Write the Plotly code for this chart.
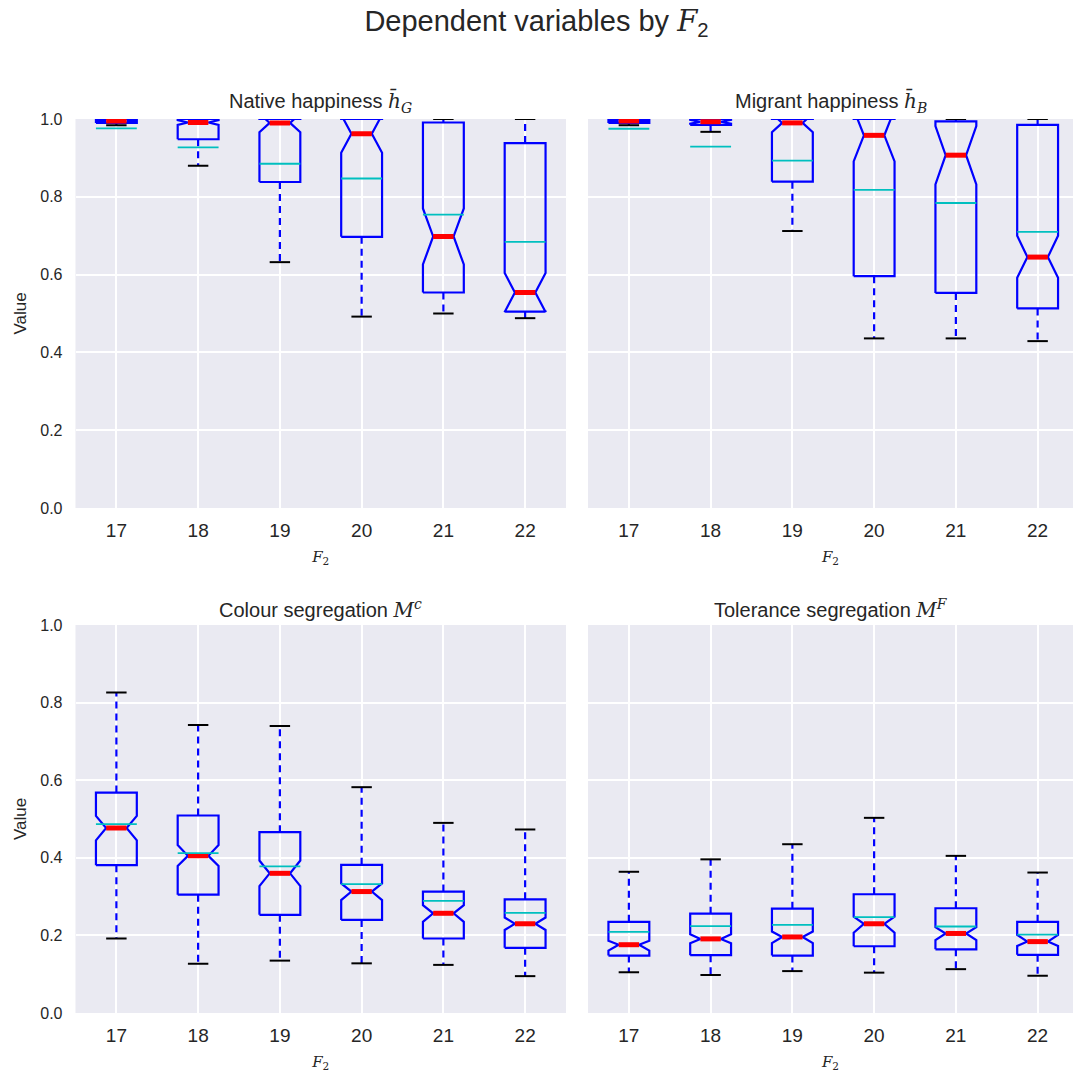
import plotly.graph_objects as go

W, H = 1073, 1075

categories = ["17", "18", "19", "20", "21", "22"]

# ---- Native happiness ----
nat_q1 = [0.990, 0.948, 0.838, 0.697, 0.554, 0.505]
nat_med = [0.995, 0.991, 0.990, 0.962, 0.698, 0.554]
nat_q3 = [1.000, 1.000, 1.000, 1.000, 0.991, 0.938]
nat_nlo = [0.993, 0.985, 0.966, 0.913, 0.626, 0.504]
nat_nhi = [0.997, 0.997, 1.014, 1.011, 0.770, 0.604]
nat_wlo = [0.984, 0.880, 0.632, 0.492, 0.500, 0.488]
nat_whi = [1.000, 1.000, 1.000, 1.000, 1.000, 1.000]
nat_mean = [0.976, 0.927, 0.885, 0.847, 0.754, 0.684]

# ---- Migrant happiness ----
mig_q1 = [0.990, 0.985, 0.839, 0.596, 0.553, 0.513]
mig_med = [0.995, 0.993, 0.990, 0.958, 0.907, 0.645]
mig_q3 = [1.000, 1.000, 1.000, 1.000, 0.994, 0.985]
mig_nlo = [0.993, 0.988, 0.966, 0.891, 0.832, 0.592]
mig_nhi = [0.997, 0.998, 1.014, 1.025, 0.982, 0.700]
mig_wlo = [0.984, 0.967, 0.712, 0.436, 0.436, 0.429]
mig_whi = [1.000, 1.000, 1.000, 1.000, 1.000, 1.000]
mig_mean = [0.975, 0.929, 0.893, 0.818, 0.784, 0.710]

# ---- Colour segregation ----
col_q1 = [0.381, 0.305, 0.253, 0.240, 0.192, 0.168]
col_med = [0.477, 0.405, 0.360, 0.313, 0.257, 0.230]
col_q3 = [0.568, 0.509, 0.466, 0.382, 0.313, 0.293]
col_nlo = [0.445, 0.379, 0.327, 0.291, 0.235, 0.214]
col_nhi = [0.508, 0.433, 0.393, 0.334, 0.278, 0.246]
col_wlo = [0.192, 0.127, 0.135, 0.128, 0.124, 0.095]
col_whi = [0.826, 0.742, 0.740, 0.582, 0.490, 0.473]
col_mean = [0.487, 0.412, 0.378, 0.332, 0.289, 0.258]

# ---- Tolerance segregation ----
tol_q1 = [0.148, 0.149, 0.148, 0.172, 0.164, 0.150]
tol_med = [0.176, 0.191, 0.196, 0.230, 0.205, 0.184]
tol_q3 = [0.235, 0.256, 0.269, 0.306, 0.270, 0.235]
tol_nlo = [0.161, 0.180, 0.180, 0.207, 0.188, 0.173]
tol_nhi = [0.186, 0.203, 0.210, 0.248, 0.221, 0.201]
tol_wlo = [0.105, 0.098, 0.108, 0.104, 0.113, 0.096]
tol_whi = [0.364, 0.396, 0.435, 0.503, 0.405, 0.362]
tol_mean = [0.209, 0.224, 0.227, 0.247, 0.223, 0.202]

y_ticks = [0.0, 0.2, 0.4, 0.6, 0.8, 1.0]

SERIF = "DejaVu Serif, Liberation Serif, serif"


def m(s):
    return f'<span style="font-family:{SERIF}"><i>{s}</i></span>'


panels = [
    ("Native happiness " + m("h̄") + "<sub>" + m("G") + "</sub>",
     nat_q1, nat_med, nat_q3, nat_nlo, nat_nhi, nat_wlo, nat_whi, nat_mean),
    ("Migrant happiness " + m("h̄") + "<sub>" + m("B") + "</sub>",
     mig_q1, mig_med, mig_q3, mig_nlo, mig_nhi, mig_wlo, mig_whi, mig_mean),
    ("Colour segregation " + m("M") + "<sup>" + m("c") + "</sup>",
     col_q1, col_med, col_q3, col_nlo, col_nhi, col_wlo, col_whi, col_mean),
    ("Tolerance segregation " + m("M") + "<sup>" + m("F") + "</sup>",
     tol_q1, tol_med, tol_q3, tol_nlo, tol_nhi, tol_wlo, tol_whi, tol_mean),
]

# pixel layout (from top-left of the page)
left_px = (75.5, 566.0)
right_px = (588.0, 1073.0)
top_px = (119.0, 508.0)
bot_px = (625.0, 1013.0)
cat_step_px = 81.75


def xdom(p):
    return [p[0] / W, p[1] / W]


def ydom(p):
    return [(H - p[1]) / H, (H - p[0]) / H]


doms = [
    (xdom(left_px), ydom(top_px), left_px),
    (xdom(right_px), ydom(top_px), right_px),
    (xdom(left_px), ydom(bot_px), left_px),
    (xdom(right_px), ydom(bot_px), right_px),
]

BLUE = "#0000FF"
RED = "#FF0000"
CYAN = "#00BFBF"
BLACK = "#000000"
TXT = "#262626"
FONT = "Liberation Sans, Arial, sans-serif"

fig = go.Figure()
w = 0.5
positions = list(range(1, len(categories) + 1))

for k, (title, q1, med, q3, nlo, nhi, wlo, whi, mean) in enumerate(panels):
    xa = "x" if k == 0 else f"x{k+1}"
    ya = "y" if k == 0 else f"y{k+1}"

    bx, by = [], []
    wx, wy = [], []
    cx, cy = [], []
    mx, my = [], []
    ax_, ay_ = [], []
    for i, p in enumerate(positions):
        l, r = p - w / 2, p + w / 2
        nl, nr = p - w / 4, p + w / 4
        bx += [l, r, r, nr, r, r, l, l, nl, l, l, None]
        by += [q1[i], q1[i], nlo[i], med[i], nhi[i], q3[i], q3[i], nhi[i], med[i], nlo[i], q1[i], None]
        wx += [p, p, None, p, p, None]
        wy += [q1[i], wlo[i], None, q3[i], whi[i], None]
        cx += [nl, nr, None, nl, nr, None]
        cy += [wlo[i], wlo[i], None, whi[i], whi[i], None]
        mx += [nl, nr, None]
        my += [med[i], med[i], None]
        ax_ += [l, r, None]
        ay_ += [mean[i], mean[i], None]

    common = dict(xaxis=xa, yaxis=ya, mode="lines", showlegend=False, hoverinfo="skip")
    fig.add_trace(go.Scatter(x=wx, y=wy, line=dict(color=BLUE, width=2.2, dash="7px,5px"), **common))
    fig.add_trace(go.Scatter(x=cx, y=cy, line=dict(color=BLACK, width=2), **common))
    fig.add_trace(go.Scatter(x=bx, y=by, line=dict(color=BLUE, width=2.2), **common))
    fig.add_trace(go.Scatter(x=mx, y=my, line=dict(color=RED, width=5), **common))
    fig.add_trace(go.Scatter(x=ax_, y=ay_, line=dict(color=CYAN, width=1.8), **common))

    xd, yd, px = doms[k]
    width_px = px[1] - px[0]
    xr = [0.5, 0.5 + width_px / cat_step_px]
    axis_x = dict(
        domain=xd, range=xr, tickmode="array", tickvals=positions, ticktext=categories,
        showgrid=True, gridcolor="white", gridwidth=1.5, zeroline=False, showline=False,
        ticks="", tickfont=dict(family=FONT, size=19, color=TXT), ticklabelstandoff=9,
        title=dict(text="<i>F</i><sub>2</sub>", font=dict(family=SERIF, size=15, color=TXT), standoff=11),
        anchor=ya, fixedrange=True, automargin=False,
    )
    axis_y = dict(
        domain=yd, range=[0, 1], tickmode="array", tickvals=y_ticks,
        ticktext=[f"{v:.1f}" for v in y_ticks],
        showticklabels=(k % 2 == 0),
        showgrid=True, gridcolor="white", gridwidth=1.5, zeroline=False, showline=False,
        ticks="", tickfont=dict(family=FONT, size=16, color=TXT), ticklabelstandoff=12,
        anchor=xa, fixedrange=True, automargin=False,
    )
    if k % 2 == 0:
        axis_y["title"] = dict(text="Value", font=dict(family=FONT, size=17, color=TXT), standoff=9)
    fig.layout["xaxis" if k == 0 else f"xaxis{k+1}"] = axis_x
    fig.layout["yaxis" if k == 0 else f"yaxis{k+1}"] = axis_y

    fig.add_annotation(
        text=title, xref=f"{xa} domain", yref=f"{ya} domain", x=0.5, y=1.0,
        xanchor="center", yanchor="bottom", yshift=1, showarrow=False,
        font=dict(family=FONT, size=20, color=TXT),
    )

fig.update_layout(
    width=W, height=H,
    margin=dict(l=0, r=0, t=0, b=0, autoexpand=False),
    paper_bgcolor="white",
    plot_bgcolor="#EAEAF2",
    title=dict(text="Dependent variables by " + m("F") + "<sub>2</sub>", x=0.5, xanchor="center",
               y=1 - 21 / H, yanchor="middle", font=dict(family=FONT, size=29, color=TXT),
               automargin=False),
)

fig.write_html(
    "out.html",
    config={"displayModeBar": False},
    post_script="document.body.style.margin='0';document.body.style.overflow='hidden';",
)
